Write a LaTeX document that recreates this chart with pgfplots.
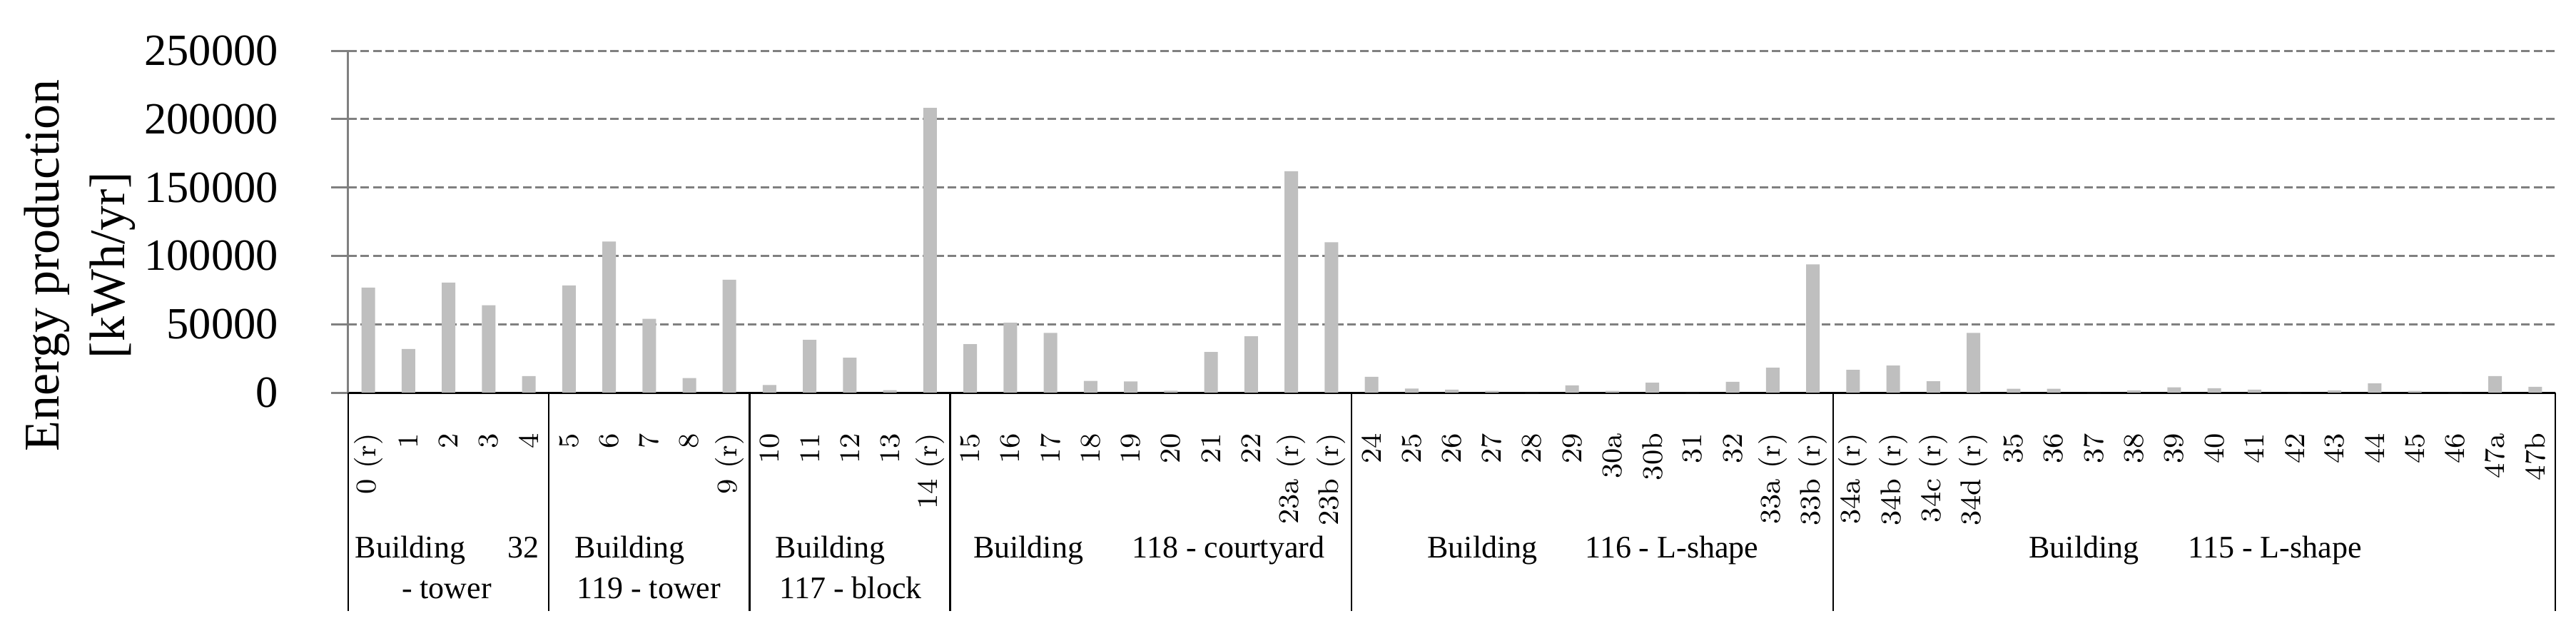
\documentclass[border=0pt]{standalone}
\usepackage{pgfplots}
\pgfplotsset{compat=1.18}
\usepackage{fontspec}
\usetikzlibrary{calc}
\newfontfamily\libserif{Liberation Serif}
\definecolor{barc}{HTML}{BFBFBF}
\definecolor{gridc}{HTML}{808080}
\begin{document}
\begin{tikzpicture}
\begin{axis}[
  scale only axis,
  width=618.6pt, height=95.8pt,
  xmin=-0.5, xmax=54.5,
  ymin=0, ymax=250000,
  axis x line*=bottom, axis y line*=left,
  x axis line style={black, line width=0.6pt},
  y axis line style={gridc, line width=0.6pt},
  ytick={0,50000,100000,150000,200000,250000},
  scaled y ticks=false,
  /pgf/number format/fixed,
  /pgf/number format/1000 sep={},
  /pgf/number format/assume math mode=true,
  yticklabel style={font=\libserif\fontsize{12.5}{15}\selectfont, anchor=east, inner sep=0pt},
  yticklabel shift=14.6pt,
  tick align=outside,
  major tick length=4.8pt,
  ytick style={gridc, line width=0.6pt},
  xtick style={draw=none},
  ymajorgrids,
  major grid style={gridc, dash pattern=on 2.4pt off 1.1pt, line width=0.6pt},
  xtick={0,...,54},
  xticklabels={0 (r),1,2,3,4,5,6,7,8,9 (r),10,11,12,13,14 (r),15,16,17,18,19,20,21,22,23a (r),23b (r),24,25,26,27,28,29,30a,30b,31,32,33a (r),33b (r),34a (r),34b (r),34c (r),34d (r),35,36,37,38,39,40,41,42,43,44,45,46,47a,47b},
  xticklabel style={rotate=90, anchor=east, inner sep=0pt, font=\fontsize{8}{9.6}\selectfont},
  xticklabel shift=6.4pt,
  clip=false,
]
\addplot[ybar, bar width=3.8pt, fill=barc, draw=none] coordinates {
(0,76800) (1,31900) (2,80400) (3,63900) (4,12100)
(5,78400) (6,110400) (7,54000) (8,10700) (9,82500)
(10,5500) (11,38600) (12,25500) (13,1800) (14,208200)
(15,35400) (16,51100) (17,43700) (18,8500) (19,8100) (20,1400) (21,29700) (22,41200) (23,161900) (24,109900)
(25,11500) (26,3000) (27,2200) (28,1200) (29,0) (30,5300) (31,1200) (32,7300) (33,0) (34,7900) (35,18200) (36,93800)
(37,16600) (38,19800) (39,8300) (40,43700) (41,2800) (42,2800) (43,0) (44,1600) (45,3800) (46,3200) (47,2200) (48,0) (49,1600) (50,6700) (51,1200) (52,0) (53,12100) (54,4200)
};
\coordinate (O) at (rel axis cs:0,0);
\coordinate (YL) at (rel axis cs:0,0.372);
\draw[black, line width=0.5pt] (axis cs:-0.5,0) -- ++(0pt,-61.2pt);
\draw[black, line width=0.5pt] (axis cs:4.5,0) -- ++(0pt,-61.2pt);
\draw[black, line width=0.5pt] (axis cs:9.5,0) -- ++(0pt,-61.2pt);
\draw[black, line width=0.5pt] (axis cs:14.5,0) -- ++(0pt,-61.2pt);
\draw[black, line width=0.5pt] (axis cs:24.5,0) -- ++(0pt,-61.2pt);
\draw[black, line width=0.5pt] (axis cs:36.5,0) -- ++(0pt,-61.2pt);
\draw[black, line width=0.5pt] (axis cs:54.5,0) -- ++(0pt,-61.2pt);
\begin{scope}[every node/.style={inner sep=0pt, font=\libserif\fontsize{8.8}{10}\selectfont}]
\node[anchor=base west] at ($(axis cs:-0.34,0)+(0pt,-46.2pt)$) {Building};
\node[anchor=base east] at ($(axis cs:4.28,0)+(0pt,-46.2pt)$) {32};
\node[anchor=base] at ($(axis cs:1.954,0)+(0pt,-57.6pt)$) {- tower};
\node[anchor=base west] at ($(axis cs:5.136,0)+(0pt,-46.2pt)$) {Building};
\node[anchor=base west] at ($(axis cs:5.19,0)+(0pt,-57.6pt)$) {119 - tower};
\node[anchor=base west] at ($(axis cs:10.13,0)+(0pt,-46.2pt)$) {Building};
\node[anchor=base west] at ($(axis cs:10.24,0)+(0pt,-57.6pt)$) {117 - block};
\node[anchor=base west] at ($(axis cs:15.06,0)+(0pt,-46.2pt)$) {Building};
\node[anchor=base west] at ($(axis cs:19.02,0)+(0pt,-46.2pt)$) {118 - courtyard};
\node[anchor=base west] at ($(axis cs:26.38,0)+(0pt,-46.2pt)$) {Building};
\node[anchor=base west] at ($(axis cs:30.31,0)+(0pt,-46.2pt)$) {116 - L-shape};
\node[anchor=base west] at ($(axis cs:41.37,0)+(0pt,-46.2pt)$) {Building};
\node[anchor=base west] at ($(axis cs:45.34,0)+(0pt,-46.2pt)$) {115 - L-shape};
\end{scope}
\end{axis}
\node[rotate=90, anchor=base, inner sep=0pt, font=\libserif\fontsize{14}{17}\selectfont] at ($(YL)+(-81pt,0pt)$) {Energy production};
\node[rotate=90, anchor=base, inner sep=0pt, font=\libserif\fontsize{14}{17}\selectfont] at ($(YL)+(-62.6pt,0pt)$) {{[}kWh/yr{]}};
\path (O) ++(-97.6pt,-69.4pt) rectangle ++(722pt,179.4pt);
\end{tikzpicture}
\end{document}
